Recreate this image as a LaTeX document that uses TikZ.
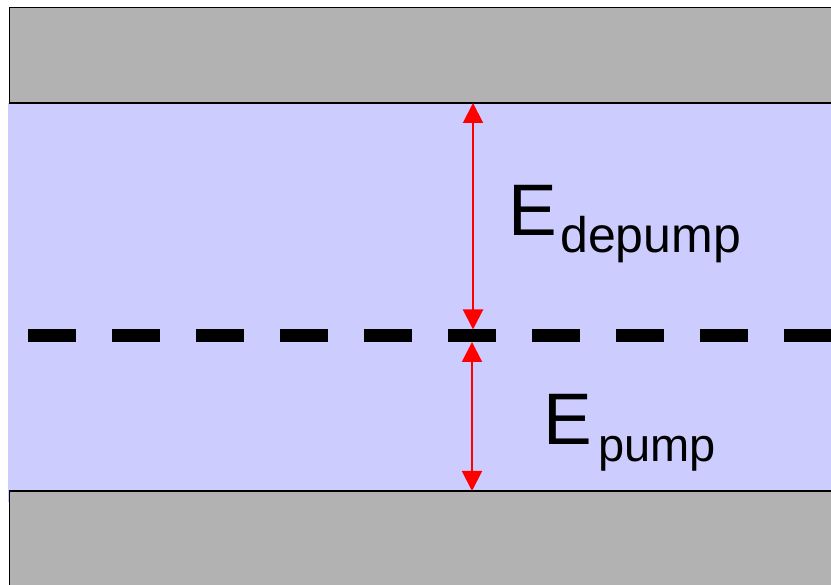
\documentclass[tikz,border=0pt]{standalone}
\usepackage{fontspec}
\setmainfont{Liberation Sans}
\usetikzlibrary{arrows.meta}
\definecolor{bandgray}{RGB}{178,178,178}
\definecolor{gapblue}{RGB}{204,204,255}
\tikzset{
  band/.style={fill=bandgray, draw=black, line width=1.5pt},
  level/.style={line width=12.4pt, dash pattern=on 48pt off 36pt},
  gaparrow/.style={red, line width=2pt, {Triangle[length=20pt,width=20pt]}-{Triangle[length=20pt,width=20pt]}},
  energy/.style={inner sep=0pt, anchor=base west, font=\fontsize{73}{73}\selectfont}
}
\begin{document}
\begin{tikzpicture}[x=1pt, y=-1pt]
  \useasboundingbox (0,0) rectangle (831,585);
  % gap region between the bands
  \fill[gapblue] (8,103) rectangle (831,502);
  % upper and lower bands
  \draw[band] (9.5,7.5) rectangle (850,103);
  \draw[band] (9.5,491) rectangle (850,620);
  % intermediate level
  \coordinate (lvlL) at (28,335.5);
  \coordinate (lvlR) at (840,335.5);
  \draw[level] (lvlL) -- (lvlR);
  % arrow end points
  \coordinate (upTop) at (473,103);
  \coordinate (upBot) at (473,329.5);
  \coordinate (loTop) at (472,342);
  \coordinate (loBot) at (472,491);
  \draw[gaparrow] (upTop) -- (upBot);
  \draw[gaparrow] (loTop) -- (loBot);
  % labels
  \node[energy] (edepump) at (508,236) {E\hspace{3.5pt}\raisebox{-17pt}{\fontsize{50}{50}\selectfont depump}};
  \node[energy] (epump) at (543.5,445) {E\hspace{6pt}\raisebox{-17pt}{\fontsize{47}{47}\selectfont pump}};
\end{tikzpicture}
\end{document}
